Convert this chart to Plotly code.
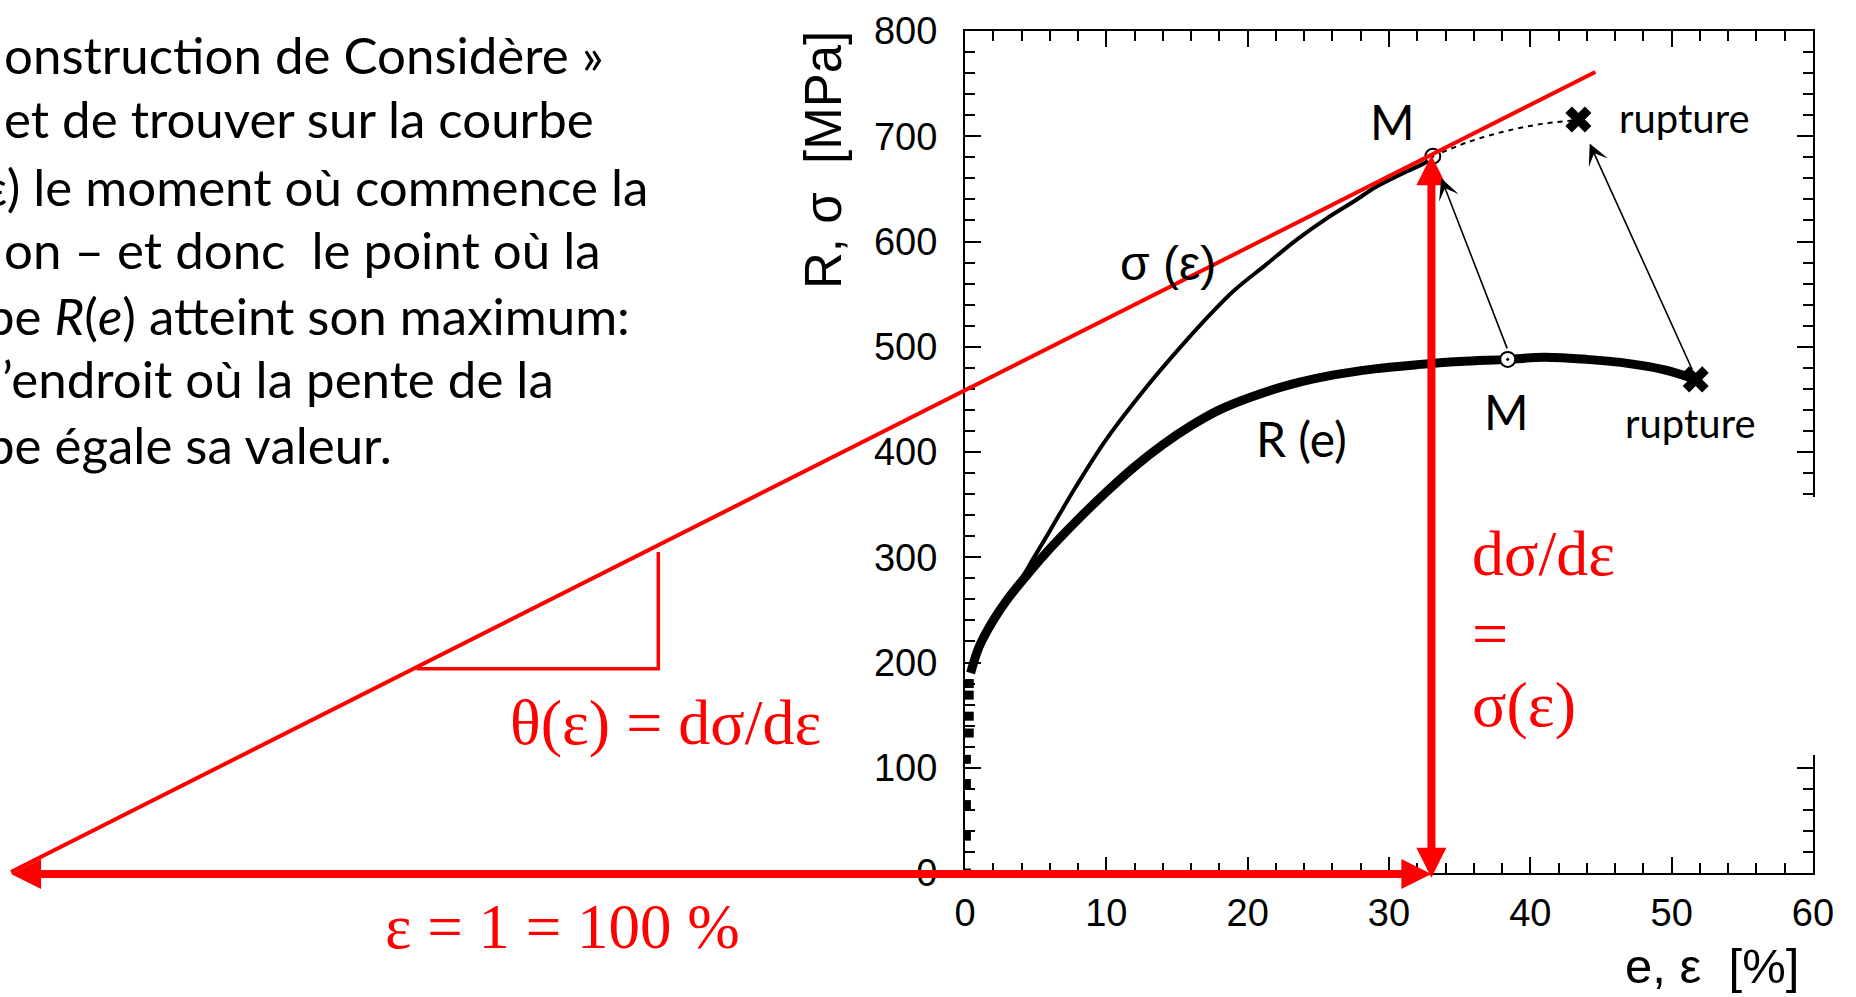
import plotly.graph_objects as go

# ---------------- data ----------------
# Engineering curve R(e) : e [%], R [MPa]
R_e = [0.4, 1.0, 2.0, 3.0, 4.5, 6.0, 8.0, 10.0, 12.0, 14.0, 16.0, 18.0, 20.2, 23.0,
       26.0, 29.0, 32.0, 35.0, 38.4, 41.0, 44.0, 47.0, 49.5, 51.7]
R_v = [190, 215, 240, 260, 285, 308, 336, 362, 386, 407, 425, 440, 452, 464,
       473, 479, 483, 486, 488, 490, 488, 484, 478, 469]
# elastic part (sparse points)
el_e = [0.1, 0.1, 0.1, 0.1, 0.1, 0.3, 0.3, 0.3, 0.3]
el_v = [0, 35, 65, 85, 108, 133, 149, 169, 180]
# True curve sigma(eps)
S_e = [3.0, 4.0, 4.8, 6.0, 7.8, 10.0, 13.1, 15.4, 17.3, 19.0, 21.3, 23.5, 25.6, 27.5,
       29.1, 31.0, 32.7, 33.1]
S_v = [262, 280, 298, 325, 366, 412, 466, 502, 530, 553, 578, 602, 622, 638,
       652, 665, 676, 681]
# dotted continuation to rupture
D_e = [33.1, 35.5, 38.0, 40.5, 43.0]
D_v = [681, 694, 704, 711, 715]
# special points
M_e = [33.1, 38.4]
M_v = [681, 488]
rup_e = [43.4, 51.7]
rup_v = [716, 469]
# tangent (Considère construction)
tan_e = [-67.5, 44.6]
tan_v = [1, 761]
tri_e = [-38.8, -21.7, -21.7]
tri_v = [194, 194, 305]
eps_M = 33.0
sig_M = 682
eps_left = -67.6

x_ticks = [0, 10, 20, 30, 40, 50, 60]
y_ticks = [0, 100, 200, 300, 400, 500, 600, 700, 800]

# ---------------- geometry ----------------
W, H = 1856, 997
X0, X60 = 965, 1813          # px of e=0 and e=60
Y0, Y800 = 873, 31           # px of sigma=0 and 800
pxe = (X60 - X0) / 60.0
pys = (Y0 - Y800) / 800.0


def px(x):
    return x / W


def py(y):
    return 1 - y / H


fig = go.Figure()

BLACK = "black"
RED = "#ff0000"

fig.add_trace(go.Scatter(x=el_e, y=el_v, mode="markers",
                         marker=dict(symbol="square", size=9, color=BLACK),
                         xaxis="x", yaxis="y", showlegend=False, hoverinfo="skip"))
fig.add_trace(go.Scatter(x=R_e, y=R_v, mode="lines",
                         line=dict(color=BLACK, width=9, shape="spline"),
                         xaxis="x", yaxis="y", showlegend=False))
fig.add_trace(go.Scatter(x=S_e, y=S_v, mode="lines",
                         line=dict(color=BLACK, width=4, shape="spline"),
                         xaxis="x", yaxis="y", showlegend=False))
fig.add_trace(go.Scatter(x=D_e, y=D_v, mode="lines",
                         line=dict(color=BLACK, width=2, dash="5px,5px", shape="spline"),
                         xaxis="x", yaxis="y", showlegend=False))
fig.add_trace(go.Scatter(x=M_e, y=M_v, mode="markers",
                         marker=dict(symbol="circle-dot", size=15, color="white",
                                     line=dict(color=BLACK, width=2)),
                         xaxis="x", yaxis="y", showlegend=False))
fig.add_trace(go.Scatter(x=rup_e, y=rup_v, mode="markers",
                         marker=dict(symbol="x", size=23, color=BLACK, line=dict(width=0)),
                         xaxis="x", yaxis="y", showlegend=False))

# red construction (full-page axes)
fig.add_trace(go.Scatter(x=tan_e, y=tan_v, mode="lines",
                         line=dict(color=RED, width=4),
                         xaxis="x2", yaxis="y2", showlegend=False))
fig.add_trace(go.Scatter(x=tri_e, y=tri_v, mode="lines",
                         line=dict(color=RED, width=3.5),
                         xaxis="x2", yaxis="y2", showlegend=False))

ann = []
# red double arrows
ann.append(dict(xref="x2", yref="y2", axref="x2", ayref="y2",
                x=eps_M, y=-1, ax=eps_left, ay=-1, text="", showarrow=True,
                arrowhead=2, startarrowhead=2, arrowside="end+start",
                arrowwidth=8, arrowsize=0.75, startarrowsize=0.75,
                arrowcolor=RED, standoff=0, startstandoff=0))
ann.append(dict(xref="x2", yref="y2", axref="x2", ayref="y2",
                x=eps_M, y=sig_M, ax=eps_M, ay=-6, text="", showarrow=True,
                arrowhead=2, startarrowhead=2, arrowside="end+start",
                arrowwidth=8, arrowsize=0.75, startarrowsize=0.75,
                arrowcolor=RED, standoff=0, startstandoff=0))
# black thin arrows
ann.append(dict(xref="x", yref="y", axref="x", ayref="y",
                x=33.7, y=660, ax=38.4, ay=497, text="", showarrow=True,
                arrowhead=3, arrowwidth=1.6, arrowsize=2.2, arrowcolor=BLACK, standoff=0))
ann.append(dict(xref="x", yref="y", axref="x", ayref="y",
                x=44.2, y=693, ax=51.5, ay=477, text="", showarrow=True,
                arrowhead=3, arrowwidth=1.6, arrowsize=2.2, arrowcolor=BLACK, standoff=0))


def txt(x, y, s, size, family, color=BLACK, xanchor="center", angle=0):
    ann.append(dict(xref="paper", yref="paper", x=px(x), y=py(y), text=s,
                    showarrow=False, xanchor=xanchor, yanchor="middle",
                    textangle=angle,
                    font=dict(size=size, family=family, color=color)))


SANS = "Liberation Sans"
HUM = "Lato"
SERIF = "Liberation Serif"

# axis titles
txt(824, 160, "R, σ  [MPa]", 51, SANS, angle=-90)
txt(1712, 966, "e, ε  [%]", 49, SANS)

# in-chart labels
txt(1168, 263, "σ (ε)", 48, SANS)
txt(1301, 438, "R (e)", 48, HUM)
txt(1392, 122, "M", 48, HUM)
txt(1506, 411, "M", 48, HUM)
txt(1684, 118, "rupture", 40, HUM)
txt(1690, 423, "rupture", 40, HUM)

# red labels
txt(665, 722, "θ(ε) = dσ/dε", 64, SERIF, color=RED)
txt(562, 927, "ε = 1 = 100 %", 63, SERIF, color=RED)
txt(1470, 553, "dσ/dε", 64, SERIF, color=RED, xanchor="left")
txt(1470, 633, "=", 64, SERIF, color=RED, xanchor="left")
txt(1470, 704, "σ(ε)", 64, SERIF, color=RED, xanchor="left")

# upper-left text block (cut by the left edge, as in the source slide)
lines = [
    (2, 54, "onstruction de Considère »"),
    (2, 118, "et de trouver sur la courbe"),
    (-30, 186, "(ε) le moment où commence la"),
    (2, 250, "on – et donc  le point où la"),
    (-16, 316, "be <i>R</i>(<i>e</i>) atteint son maximum:"),
    (0, 379, "’endroit où la pente de la"),
    (-16, 445, "be égale sa valeur."),
]
for x, y, s in lines:
    txt(x, y, s, 51, HUM, xanchor="left")

axis_common = dict(ticks="inside", ticklen=16, tickwidth=2, tickcolor=BLACK,
                   showline=True, linecolor=BLACK, linewidth=2, mirror="ticks",
                   showgrid=False, zeroline=False, automargin=False,
                   tickfont=dict(family=SANS, size=38, color=BLACK))

fig.update_layout(
    width=W, height=H,
    margin=dict(l=0, r=0, t=0, b=0, autoexpand=False),
    paper_bgcolor="white", plot_bgcolor="rgba(0,0,0,0)",
    showlegend=False,
    annotations=ann,
    xaxis=dict(domain=[X0 / W, X60 / W], range=[0, 60], anchor="y",
               tickvals=x_ticks, ticktext=[str(v) for v in x_ticks],
               minor=dict(dtick=2, ticks="inside", ticklen=10, tickwidth=1.5, tickcolor=BLACK),
               ticklabelstandoff=5, **axis_common),
    yaxis=dict(domain=[(H - Y0) / H, (H - Y800) / H], range=[0, 800], anchor="x",
               tickvals=y_ticks, ticktext=[str(v) for v in y_ticks],
               minor=dict(dtick=20, ticks="inside", ticklen=10, tickwidth=1.5, tickcolor=BLACK),
               ticklabelstandoff=18, **axis_common),
    xaxis2=dict(domain=[0, 1], anchor="y2", range=[-X0 / pxe, (W - X0) / pxe],
                visible=False, automargin=False),
    yaxis2=dict(domain=[0, 1], anchor="x2", range=[-(H - Y0) / pys, Y0 / pys],
                visible=False, automargin=False),
    shapes=[dict(type="rect", xref="paper", yref="paper",
                 x0=px(1790), x1=px(1825), y0=py(755), y1=py(497),
                 fillcolor="white", line=dict(width=0), layer="above")],
)

fig.write_html("out.html")
